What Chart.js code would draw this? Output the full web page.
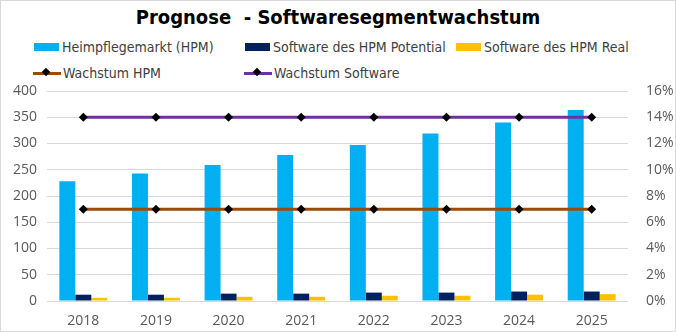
<!DOCTYPE html>
<html>
<head>
<meta charset="utf-8">
<script src="https://cdn.jsdelivr.net/npm/chart.js@4"></script>
<style>
  body { margin: 0; background: #fff; }
  #wrap { position: relative; width: 674px; height: 330px; border: 1px solid #d9d9d9; }
  #title { position: absolute; top: 4px; left: 0; width: 100%; text-align: center;
    font: bold 20px "DejaVu Sans Condensed", "DejaVu Sans", sans-serif; color: #000; }
  .lg { position: absolute; display: flex; align-items: center;
    font: 14px "Liberation Sans Narrow", "DejaVu Sans Condensed", sans-serif; color: #404040; white-space: nowrap; }
  .lg .box { width: 25px; height: 8px; margin-right: 3px; }
  .lg .ln { position: relative; width: 28px; height: 3px; margin-right: 2px; }
  .lg .ln i { position: absolute; left: 10px; top: -3px; width: 6px; height: 6px; background: #000; transform: rotate(45deg); }
  canvas { position: absolute; left: 0; top: 0; }
</style>
</head>
<body>
<div id="wrap">
  <div id="title">Prognose&nbsp; - Softwaresegmentwachstum</div>
  <div id="legend"></div>
  <canvas id="chart" width="674" height="330"></canvas>
</div>
<script>
const years = ['2018', '2019', '2020', '2021', '2022', '2023', '2024', '2025'];
const hpmMarket = [228, 243, 259, 278, 297, 319, 340, 364];
const swPotential = [12, 12, 14, 14, 16, 16, 18, 18];
const swReal = [6, 6, 8, 8, 10, 10, 12, 13];
const growthHpm = [7, 7, 7, 7, 7, 7, 7, 7];
const growthSw = [14, 14, 14, 14, 14, 14, 14, 14];

const blue = '#00B0F0', navy = '#002060', yellow = '#FFC000';
const brown = '#9C4A0A', purple = '#7030A0';

// legend in two rows, fixed columns
const legendItems = [
  { text: 'Heimpflegemarkt (HPM)', color: blue, type: 'box', x: 33, y: 46 },
  { text: 'Software des HPM Potential', color: navy, type: 'box', x: 244, y: 46 },
  { text: 'Software des HPM Real', color: yellow, type: 'box', x: 455, y: 46 },
  { text: 'Wachstum HPM', color: brown, type: 'line', x: 32, y: 72 },
  { text: 'Wachstum Software', color: purple, type: 'line', x: 243, y: 72 }
];
const legend = document.getElementById('legend');
for (const item of legendItems) {
  const div = document.createElement('div');
  div.className = 'lg';
  div.style.left = item.x + 'px';
  div.style.top = (item.y - 9) + 'px';
  div.style.height = '18px';
  const mark = document.createElement('span');
  if (item.type === 'box') {
    mark.className = 'box';
  } else {
    mark.className = 'ln';
    mark.appendChild(document.createElement('i'));
  }
  mark.style.background = item.color;
  div.appendChild(mark);
  div.appendChild(document.createTextNode(item.text));
  legend.appendChild(div);
}

const tickFont = { family: '"Open Sans", sans-serif', size: 14 };
const gridColor = '#d9d9d9';

const ctx = document.getElementById('chart').getContext('2d');
new Chart(ctx, {
  type: 'bar',
  data: {
    labels: years,
    datasets: [
      { type: 'line', label: 'Wachstum HPM', data: growthHpm, yAxisID: 'y1', order: 0,
        borderColor: brown, borderWidth: 3, pointStyle: 'rectRot', pointRadius: 4.5,
        pointBackgroundColor: '#000', pointBorderColor: '#000', pointBorderWidth: 0 },
      { type: 'line', label: 'Wachstum Software', data: growthSw, yAxisID: 'y1', order: 0,
        borderColor: purple, borderWidth: 3, pointStyle: 'rectRot', pointRadius: 4.5,
        pointBackgroundColor: '#000', pointBorderColor: '#000', pointBorderWidth: 0 },
      { label: 'Heimpflegemarkt (HPM)', data: hpmMarket, backgroundColor: blue, order: 1 },
      { label: 'Software des HPM Potential', data: swPotential, backgroundColor: navy, order: 1 },
      { label: 'Software des HPM Real', data: swReal, backgroundColor: yellow, order: 1 }
    ]
  },
  options: {
    responsive: false,
    animation: false,
    layout: { padding: { top: 90, left: 0, right: 0, bottom: 0 } },
    datasets: { bar: { categoryPercentage: 0.66, barPercentage: 1 } },
    plugins: { legend: { display: false }, title: { display: false }, tooltip: { enabled: false } },
    scales: {
      x: {
        grid: { display: false },
        border: { display: false },
        ticks: { font: tickFont, color: '#595959', padding: 4 },
        afterFit: s => { s.height = 30; }
      },
      y: {
        min: 0, max: 400,
        ticks: { stepSize: 50, font: tickFont, color: '#595959', padding: 10 },
        grid: { color: gridColor, drawTicks: false },
        border: { display: false },
        afterFit: s => { s.width = 46; }
      },
      y1: {
        position: 'right',
        min: 0, max: 16,
        ticks: { stepSize: 2, font: tickFont, color: '#595959', padding: 10,
          callback: v => v + '%' },
        grid: { display: false },
        border: { display: false },
        afterFit: s => { s.width = 47; }
      }
    }
  }
});
</script>
</body>
</html>
